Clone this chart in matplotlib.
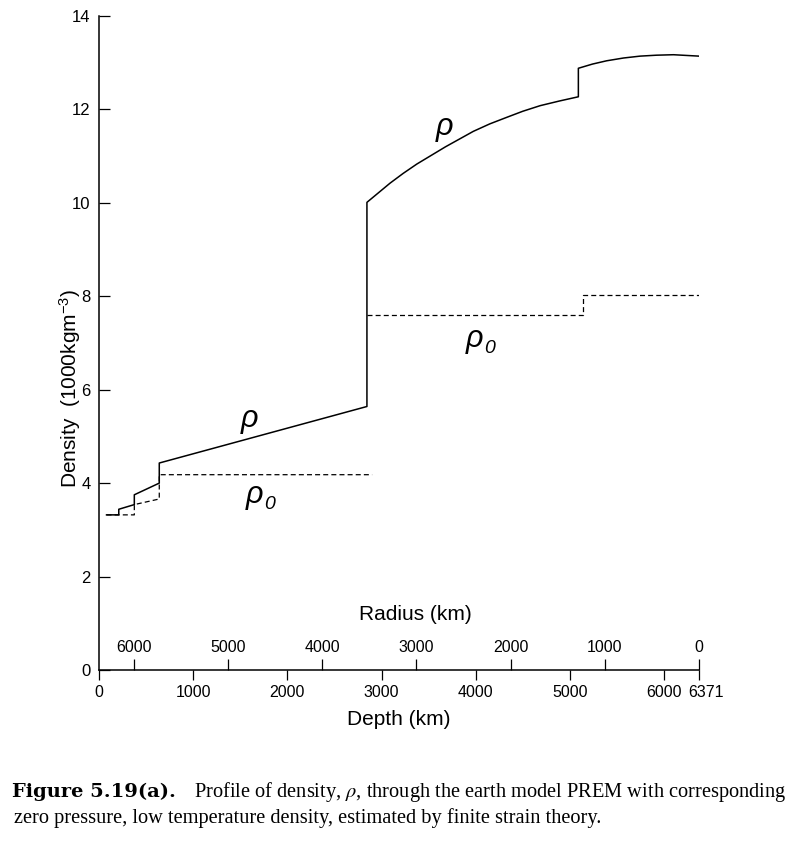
import matplotlib
matplotlib.use("Agg")
import matplotlib.pyplot as plt
from matplotlib.transforms import ScaledTranslation

# PREM density (depth in km, density in 1000 kg/m^3)
rho_depth = [80, 210, 210, 375, 375, 640, 640, 2845, 2845,
             3090, 3230, 3375, 3680, 3975, 4150, 4330, 4500, 4685, 4890, 5090, 5090,
             5240, 5390, 5570, 5745, 5920, 6100, 6371]
rho_val = [3.32, 3.32, 3.44, 3.54, 3.75, 4.00, 4.43, 5.64, 10.01,
           10.42, 10.63, 10.83, 11.20, 11.53, 11.69, 11.83, 11.96, 12.08, 12.18, 12.27, 12.88,
           12.97, 13.04, 13.10, 13.14, 13.16, 13.17, 13.14]

# zero pressure, low temperature density (dashed)
rho0_mantle_depth = [80, 375, 375, 640, 640, 2900]
rho0_mantle_val = [3.32, 3.32, 3.54, 3.66, 4.18, 4.18]
rho0_core_depth = [2845, 5140, 5140, 6371]
rho0_core_val = [7.59, 7.59, 8.03, 8.03]

depth_ticks = [0, 1000, 2000, 3000, 4000, 5000, 6000, 6371]
radius_ticks = [6000, 5000, 4000, 3000, 2000, 1000, 0]
density_ticks = [0, 2, 4, 6, 8, 10, 12, 14]
earth_radius = 6371

plt.rcParams['font.family'] = ['Liberation Sans', 'DejaVu Sans']
plt.rcParams['mathtext.fontset'] = 'custom'
plt.rcParams['mathtext.rm'] = 'Liberation Sans'
plt.rcParams['mathtext.it'] = 'Liberation Sans:italic'

fig = plt.figure(figsize=(8, 8.44), dpi=100)
ax = fig.add_axes([0.12375, 0.2062, 0.75, 0.7749])

ax.plot(rho_depth, rho_val, color='black', lw=1.1)
ax.plot(rho0_mantle_depth, rho0_mantle_val, color='black', lw=0.9, dashes=(4, 2.5))
ax.plot(rho0_core_depth, rho0_core_val, color='black', lw=0.9, dashes=(4, 2.5))

ax.set_xlim(0, earth_radius)
ax.set_ylim(0, 14)
ax.spines['top'].set_visible(False)
ax.spines['right'].set_visible(False)
ax.spines['left'].set_linewidth(1.1)
ax.spines['bottom'].set_linewidth(1.1)

ax.set_yticks(density_ticks)
ax.tick_params(axis='y', direction='in', length=8, width=0.9, pad=6, labelsize=12)
ax.set_xticks(depth_ticks)
ax.set_xticklabels([str(d) for d in depth_ticks])
ax.tick_params(axis='x', direction='out', length=7, width=0.9, pad=4, labelsize=11.5)
# nudge the last depth label so it does not run into 6000
last = ax.get_xticklabels()[-1]
last.set_transform(last.get_transform() + ScaledTranslation(5 / 72, 0, fig.dpi_scale_trans))
ax.set_xlabel('Depth (km)', fontsize=15, labelpad=7)

ax.set_ylabel('Density  (1000kgm$^{-3}$)', fontsize=15)
ax.yaxis.set_label_coords(-0.027, 0.43)

# radius scale on the same baseline, ticks pointing up
secax = ax.secondary_xaxis(0, functions=(lambda d: earth_radius - d, lambda r: earth_radius - r))
secax.xaxis.set_ticks_position('top')
secax.xaxis.set_label_position('top')
secax.set_xticks(radius_ticks)
secax.set_xticklabels([str(r) for r in radius_ticks])
secax.tick_params(axis='x', direction='out', length=8, width=0.9, pad=3, labelsize=11.5)
secax.spines['bottom'].set_visible(False)
secax.spines['top'].set_linewidth(1.1)
secax.set_xlabel('Radius (km)', fontsize=15, labelpad=14)
secax.xaxis.label.set_x(0.527)

# curve labels
ax.text(3674, 11.59, r'$\rho$', fontsize=22, ha='center', va='center')
ax.text(1603, 5.34, r'$\rho$', fontsize=22, ha='center', va='center')
for x, y in [(3990, 7.05), (1650, 3.71)]:
    ax.text(x, y, r'$\rho$', fontsize=22, ha='center', va='center')
    ax.annotate('0', xy=(x, y), xytext=(7, -6), textcoords='offset points',
                fontsize=14, style='italic', ha='left', va='center')

# caption
cap_y1 = 1 - 797 / 844
cap_y2 = 1 - 823 / 844
t1 = fig.text(12 / 800, cap_y1, 'Figure 5.19(a).', family='DejaVu Serif',
              fontweight='bold', fontsize=14, va='baseline')
fig.canvas.draw()
bb = t1.get_window_extent(fig.canvas.get_renderer())
fig.text((bb.x1 + 18) / 800, cap_y1,
         r'Profile of density, $\rho$, through the earth model PREM with corresponding',
         family='Liberation Serif', fontsize=14.7, va='baseline', math_fontfamily='stix')
fig.text(14 / 800, cap_y2,
         'zero pressure, low temperature density, estimated by finite strain theory.',
         family='Liberation Serif', fontsize=14.7, va='baseline')

fig.savefig('out.png', dpi=100)
